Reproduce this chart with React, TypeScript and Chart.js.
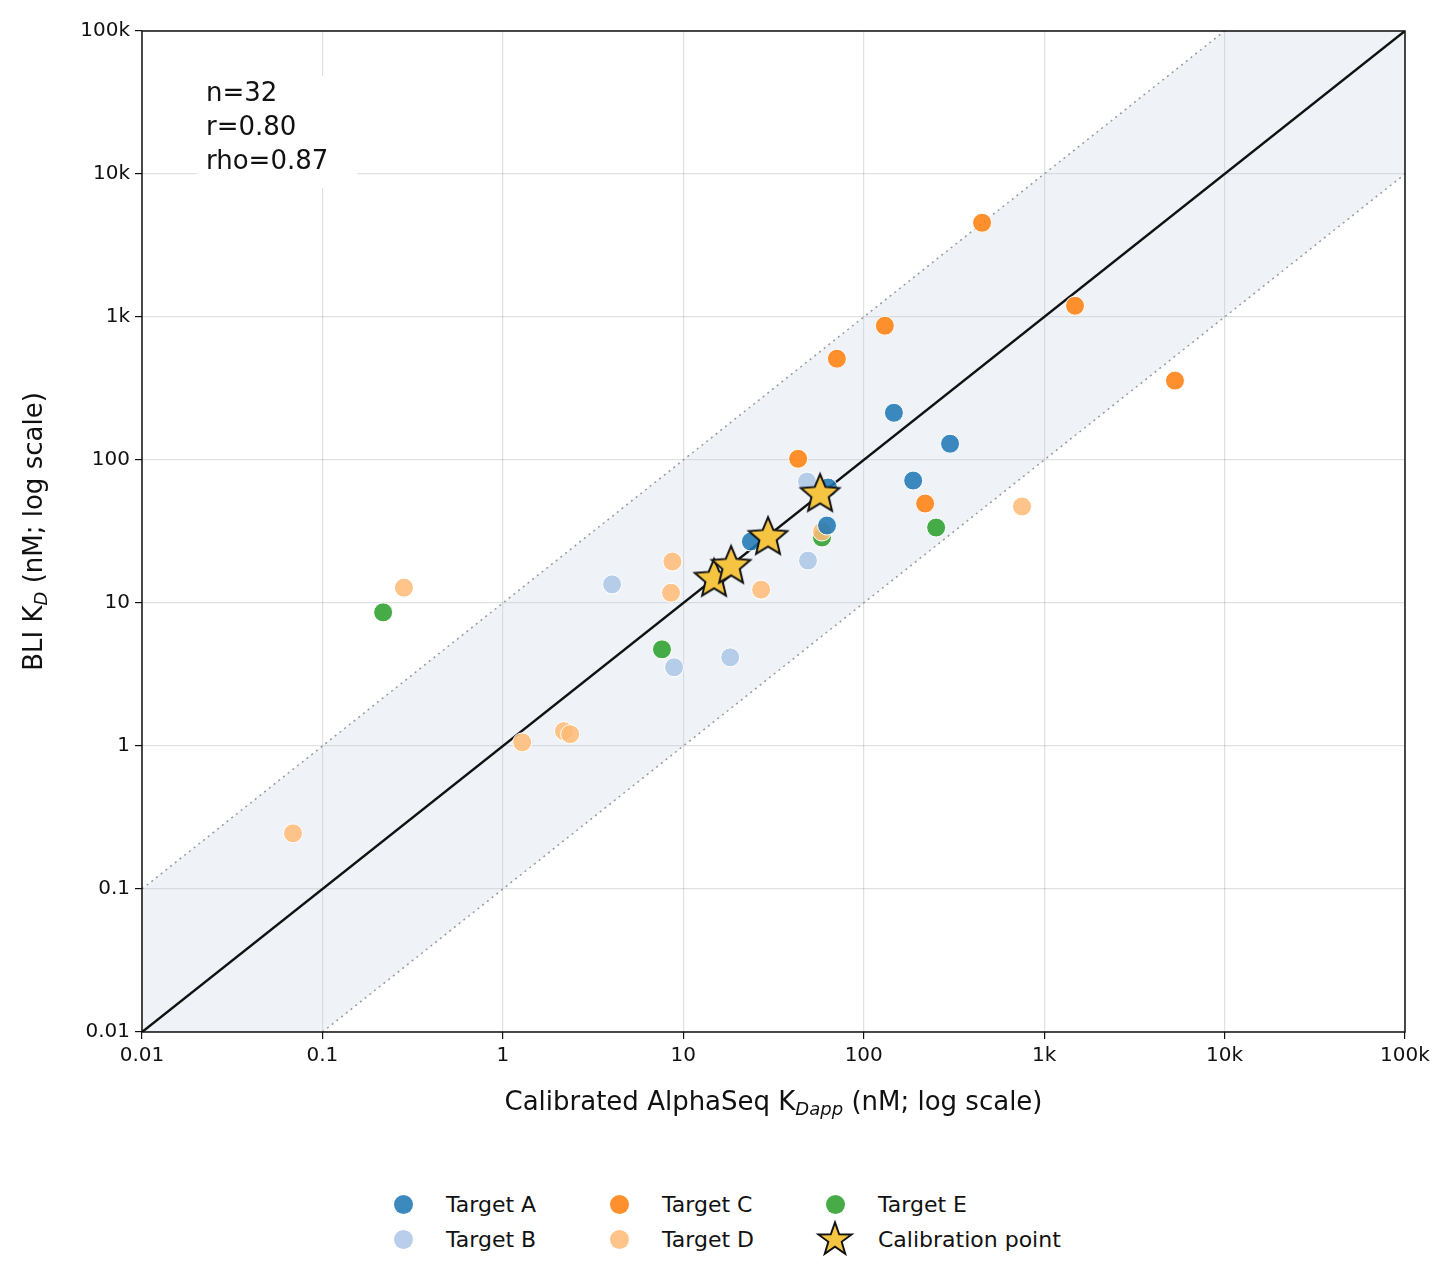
import React, { useEffect, useRef } from "react";
import { Chart, registerables } from "chart.js";
Chart.register(...registerables);

const tickValues = [0.01, 0.1, 1, 10, 100, 1000, 10000, 100000];
const tickLabels = ["0.01", "0.1", "1", "10", "100", "1k", "10k", "100k"];

const targetA = [[147, 214], [301, 130], [188, 71.8], [63.4, 64.2], [62.6, 34.8], [23.7, 26.9]];
const targetB = [[48.5, 70.7], [4.03, 13.5], [49.1, 19.8], [8.89, 3.55], [18.2, 4.17]];
const targetC = [[453, 4560], [1483, 1199], [131, 869], [71, 511], [43.3, 102], [219, 49.6], [5310, 359]];
const targetD = [[0.283, 12.8], [0.0687, 0.245], [1.28, 1.06], [2.18, 1.27], [2.36, 1.21], [8.7, 19.5], [8.55, 11.8], [27, 12.4], [754, 47.3], [58.7, 31.6]];
const targetE = [[0.217, 8.6], [7.62, 4.74], [58.7, 28.7], [252, 33.7]];
const calib = [[14.8, 15.1], [18.4, 18.6], [29.5, 29.6], [57.3, 59.2]];

const colors = { A: "rgba(31,119,180,0.87)", B: "rgba(174,199,232,0.87)", C: "rgba(255,127,14,0.87)", D: "rgba(255,187,120,0.87)", E: "rgba(44,160,44,0.87)" };
const FONT = "'DejaVu Sans', sans-serif";

function makeStar(size: number) {
  const c = document.createElement("canvas");
  c.width = size; c.height = size;
  const g = c.getContext("2d")!;
  const cx = size / 2, cy = size / 2 + size * 0.04, R = size * 0.46, r = R * 0.45;
  g.beginPath();
  for (let i = 0; i < 10; i++) {
    const rad = i % 2 === 0 ? R : r;
    const a = -Math.PI / 2 + (i * Math.PI) / 5;
    const px = cx + rad * Math.cos(a), py = cy + rad * Math.sin(a);
    i === 0 ? g.moveTo(px, py) : g.lineTo(px, py);
  }
  g.closePath();
  g.fillStyle = "#f5c542";
  g.fill();
  g.lineWidth = 2;
  g.strokeStyle = "#111";
  g.lineJoin = "miter";
  g.stroke();
  return c;
}

const pts = (arr: number[][]) => arr.map(([x, y]) => ({ x, y }));

export default function App() {
  const ref = useRef<HTMLCanvasElement>(null);
  useEffect(() => {
    const star = makeStar(44);
    const scatter = (label: string, data: number[][], color: string) => ({
      type: "scatter" as const, label, data: pts(data), backgroundColor: color,
      borderColor: "#fff", borderWidth: 1, pointRadius: 9.5, order: 1,
    });
    const line = (data: number[][], dash: number[], color: string, w: number) => ({
      type: "line" as const, data: pts(data), borderColor: color, borderWidth: w,
      borderDash: dash, pointRadius: 0, fill: false, order: 5,
    });
    const bandPlugin = {
      id: "band",
      beforeDatasetsDraw(chart: any) {
        const { ctx, scales: { x, y }, chartArea } = chart;
        const poly = [[0.01, 0.1], [1e4, 1e5], [1e5, 1e5], [1e5, 1e4], [0.1, 0.01], [0.01, 0.01]];
        ctx.save();
        ctx.beginPath();
        ctx.rect(chartArea.left, chartArea.top, chartArea.width, chartArea.height);
        ctx.clip();
        ctx.beginPath();
        poly.forEach(([a, b], i) => {
          const px = x.getPixelForValue(a), py = y.getPixelForValue(b);
          i ? ctx.lineTo(px, py) : ctx.moveTo(px, py);
        });
        ctx.closePath();
        ctx.fillStyle = "rgba(176,196,222,0.2)";
        ctx.fill();
        ctx.restore();
      },
      afterDraw(chart: any) {
        const { ctx, chartArea } = chart;
        ctx.save();
        ctx.strokeStyle = "#111";
        ctx.lineWidth = 1.5;
        ctx.strokeRect(chartArea.left, chartArea.top, chartArea.width, chartArea.height);
        ctx.fillStyle = "#fff";
        ctx.fillRect(chartArea.left + 55, chartArea.top + 45, 160, 112);
        ctx.fillStyle = "#111";
        ctx.font = `26px ${FONT}`;
        ctx.textBaseline = "top";
        ["n=32", "r=0.80", "rho=0.87"].forEach((t, i) => ctx.fillText(t, chartArea.left + 64, chartArea.top + 50 + i * 34));
        const measure = (parts: [string, number, number][]) => {
          let w = 0;
          parts.forEach(([t, s, italic]) => { ctx.font = `${italic ? "italic " : ""}${s}px ${FONT}`; w += ctx.measureText(t).width; });
          return w;
        };
        const xParts: [string, number, number][] = [["Calibrated AlphaSeq K", 26, 0], ["Dapp", 18, 1], [" (nM; log scale)", 26, 0]];
        let w = measure(xParts);
        let cx = (chartArea.left + chartArea.right) / 2 - w / 2;
        const by = chartArea.bottom + 78;
        ctx.textBaseline = "alphabetic";
        xParts.forEach(([t, s, it]) => {
          ctx.font = `${it ? "italic " : ""}${s}px ${FONT}`;
          ctx.fillText(t, cx, it ? by + 5 : by);
          cx += ctx.measureText(t).width;
        });
        const yParts: [string, number, number][] = [["BLI K", 26, 0], ["D", 18, 1], [" (nM; log scale)", 26, 0]];
        w = measure(yParts);
        ctx.translate(chartArea.left - 100, (chartArea.top + chartArea.bottom) / 2);
        ctx.rotate(-Math.PI / 2);
        let cy = -w / 2;
        yParts.forEach(([t, s, it]) => {
          ctx.font = `${it ? "italic " : ""}${s}px ${FONT}`;
          ctx.fillText(t, cy, it ? 5 : 0);
          cy += ctx.measureText(t).width;
        });
        ctx.restore();
      },
    };
    const axis = (isX: boolean) => ({
      type: "logarithmic" as const, min: 0.01, max: 100000,
      afterBuildTicks: (s: any) => { s.ticks = tickValues.map((v) => ({ value: v })); },
      afterFit: (s: any) => { if (isX) s.height = 100; else s.width = 134; },
      ticks: {
        callback: (v: any) => { const i = tickValues.findIndex((t) => Math.abs(Math.log10(t) - Math.log10(v)) < 1e-6); return i >= 0 ? tickLabels[i] : ""; },
        color: "#111", font: { size: 20, family: FONT }, autoSkip: false, maxRotation: 0, padding: 5,
      },
      grid: { color: "rgba(0,0,0,0.12)", lineWidth: 1.2, tickLength: 7, tickColor: "#111", drawTicks: true },
      border: { display: false },
    });
    const chart = new Chart(ref.current!, {
      data: {
        datasets: [
          line([[0.01, 0.1], [1e4, 1e5]], [2, 4], "#999", 1.5),
          line([[0.1, 0.01], [1e5, 1e4]], [2, 4], "#999", 1.5),
          line([[0.01, 0.01], [1e5, 1e5]], [], "#111", 2.5),
          scatter("Target A", targetA, colors.A),
          scatter("Target B", targetB, colors.B),
          scatter("Target C", targetC, colors.C),
          scatter("Target D", targetD, colors.D),
          scatter("Target E", targetE, colors.E),
          { type: "scatter" as const, label: "Calibration point", data: pts(calib), pointStyle: star as any, pointRadius: 22, order: 0 },
        ] as any,
      },
      options: {
        animation: false, responsive: false,
        layout: { padding: { top: 22, right: 43, left: 0, bottom: 0 } },
        plugins: { legend: { display: false }, tooltip: { enabled: false } },
        scales: { x: axis(true), y: axis(false) },
      },
      plugins: [bandPlugin],
    });
    return () => chart.destroy();
  }, []);

  const legend: [string, string | null, number, number][] = [
    ["Target A", colors.A, 0, 0], ["Target B", colors.B, 0, 1],
    ["Target C", colors.C, 1, 0], ["Target D", colors.D, 1, 1],
    ["Target E", colors.E, 2, 0], ["Calibration point", null, 2, 1],
  ];
  return (
    <div style={{ position: "relative", width: 1440, height: 1268, fontFamily: FONT }}>
      <canvas ref={ref} width={1440} height={1124} style={{ width: 1440, height: 1124, display: "block" }} />
      {legend.map(([t, c, col, row]) => (
        <div key={t} style={{ position: "absolute", left: 370 + col * 216, top: 1176 + row * 35, height: 40, display: "flex", alignItems: "center", fontSize: 22, color: "#111" }}>
          <span style={{ width: 50, height: 40, display: "inline-flex", justifyContent: "center", alignItems: "center" }}>
            {c ? <span style={{ width: 19, height: 19, borderRadius: 10, background: c, display: "inline-block" }} /> :
              <svg width="40" height="40" viewBox="0 0 42 42"><polygon points="21,3.5 25.4,16 38.5,16.2 28,24 31.8,36.6 21,29 10.2,36.6 14,24 3.5,16.2 16.6,16" fill="#f5c542" stroke="#111" strokeWidth="2" /></svg>}
          </span>
          <span style={{ marginLeft: 18 }}>{t}</span>
        </div>
      ))}
    </div>
  );
}
